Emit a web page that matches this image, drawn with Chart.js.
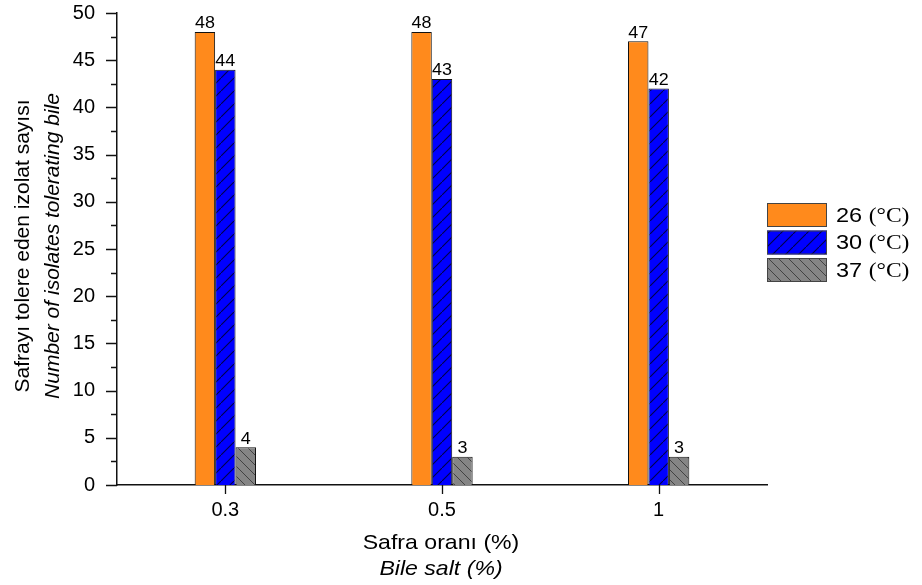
<!DOCTYPE html>
<html>
<head>
<meta charset="utf-8">
<script src="https://cdn.jsdelivr.net/npm/chart.js@4"></script>
<style>
  html, body { margin: 0; padding: 0; background: #fff; }
  #wrap { width: 922px; height: 585px; }
</style>
</head>
<body>
<div id="wrap"><canvas id="bile-chart" width="922" height="585"></canvas></div>
<script>
// values
const categories = ['0.3', '0.5', '1'];
const tempLabels = ['26', '30', '37'];
const isolates26 = [48, 48, 47];
const isolates30 = [44, 43, 42];
const isolates37 = [4, 3, 3];
const yMin = 0, yMax = 50, yStep = 5;

const SANS = '"Liberation Sans", Arial, sans-serif';
const SERIF = '"Liberation Serif", "Times New Roman", serif';

function hatch(bg, line, dir, gap, lw) {
    let c = document.createElement('canvas');
    c.width = gap; c.height = gap;
    let g = c.getContext('2d');
    g.fillStyle = bg;
    g.fillRect(0, 0, gap, gap);
    g.strokeStyle = line;
    g.lineWidth = lw;
    g.beginPath();
    if (dir > 0) {
        g.moveTo(-1, gap + 1); g.lineTo(gap + 1, -1);
    } else {
        g.moveTo(-1, -1); g.lineTo(gap + 1, gap + 1);
    }
    g.stroke();
    return g.createPattern(c, 'repeat');
}

const fills = [
    '#FF8A1C',
    hatch('#0000FF', '#000048', 1, 13, 1.1),
    hatch('#858585', '#3A3A3A', -1, 10, 0.9)
];

// draws text stretched horizontally like the source figure
function stretchText(ctx, txt, x, y, sx) {
    ctx.save();
    ctx.translate(x, y);
    ctx.scale(sx, 1);
    ctx.fillText(txt, 0, 0);
    ctx.restore();
}

// bar value labels, minor ticks, axis titles and legend
const decor = {
    id: 'decor',
    afterDatasetsDraw: function(chart) {
        let ctx = chart.ctx;
        ctx.save();
        ctx.fillStyle = '#000';
        ctx.font = '16px ' + SANS;
        ctx.textAlign = 'center';
        ctx.textBaseline = 'bottom';
        chart.data.datasets.forEach(function(ds, i) {
            chart.getDatasetMeta(i).data.forEach(function(bar, j) {
                stretchText(ctx, String(ds.data[j]), bar.x, bar.y, 1.12);
            });
        });
        ctx.restore();
    },
    afterDraw: function(chart) {
        let ctx = chart.ctx;
        let y = chart.scales.y, x = chart.scales.x;
        let area = chart.chartArea;
        ctx.save();
        ctx.strokeStyle = '#111';
        ctx.lineWidth = 1.3;
        ctx.beginPath();
        for (let v = yMin; v <= yMax; v += yStep / 2) {
            let py = Math.round(y.getPixelForValue(v)) + 0.5;
            let len = (v % yStep === 0) ? 11 : 6;
            ctx.moveTo(area.left - len, py);
            ctx.lineTo(area.left, py);
        }
        categories.forEach(function(c, i) {
            let px = Math.round(x.getPixelForValue(i)) + 0.5;
            ctx.moveTo(px, area.bottom);
            ctx.lineTo(px, area.bottom + 9);
        });
        ctx.stroke();

        // axis titles
        ctx.fillStyle = '#000';
        ctx.textAlign = 'center';
        ctx.textBaseline = 'middle';
        ctx.font = '21px ' + SANS;
        stretchText(ctx, 'Safra oranı (%)', 441, 543, 1.1);
        ctx.font = 'italic 21px ' + SANS;
        stretchText(ctx, 'Bile salt (%)', 441, 569, 1.1);

        ctx.save();
        ctx.translate(23, 246);
        ctx.rotate(-Math.PI / 2);
        ctx.font = '21px ' + SANS;
        ctx.fillText('Safrayı tolere eden izolat sayısı', 0, 0);
        ctx.restore();
        ctx.save();
        ctx.translate(53, 246);
        ctx.rotate(-Math.PI / 2);
        ctx.font = 'italic 21px ' + SANS;
        ctx.fillText('Number of isolates tolerating bile', 0, 0);
        ctx.restore();

        // legend
        ctx.textAlign = 'left';
        chart.data.datasets.forEach(function(ds, i) {
            let top = 203 + i * 27.5;
            ctx.fillStyle = ds.backgroundColor;
            ctx.fillRect(767, top, 60, 24);
            ctx.strokeStyle = '#444';
            ctx.lineWidth = 1;
            ctx.strokeRect(767.5, top + 0.5, 59, 23);
            ctx.fillStyle = '#000';
            ctx.font = '21px ' + SANS;
            let t = ds.label + ' ';
            stretchText(ctx, t, 836, top + 13, 1.12);
            let w = ctx.measureText(t).width * 1.12;
            ctx.font = '21px ' + SERIF;
            stretchText(ctx, '(°C)', 836 + w, top + 13, 1.12);
        });
        ctx.restore();
    }
};

const datasets = [isolates26, isolates30, isolates37].map(function(vals, i) {
    return {
        label: tempLabels[i],
        data: vals,
        backgroundColor: fills[i],
        borderColor: '#111',
        borderWidth: 1,
        barPercentage: 1,
        categoryPercentage: 0.283
    };
});

new Chart(document.getElementById('bile-chart'), {
    type: 'bar',
    data: { labels: categories, datasets: datasets },
    options: {
        responsive: false,
        animation: false,
        layout: { padding: { top: 13, right: 155, left: 0, bottom: 0 } },
        plugins: {
            legend: { display: false },
            tooltip: { enabled: false }
        },
        scales: {
            x: {
                grid: { display: false },
                border: { display: true, color: '#111', width: 1.5 },
                ticks: { color: '#000', font: { family: SANS, size: 20 }, padding: 5, maxRotation: 0 },
                afterFit: function(s) {
                    s.height = 100;
                    s.paddingLeft = 0; s.paddingRight = 0;
                }
            },
            y: {
                min: yMin,
                max: yMax,
                grid: { display: false },
                border: { display: true, color: '#111', width: 1.5 },
                ticks: { stepSize: yStep, color: '#000', font: { family: SANS, size: 20 }, padding: 14 },
                afterFit: function(s) {
                    s.width = 117;
                    s.paddingTop = 0; s.paddingBottom = 0;
                }
            }
        }
    },
    plugins: [decor]
});
</script>
</body>
</html>
